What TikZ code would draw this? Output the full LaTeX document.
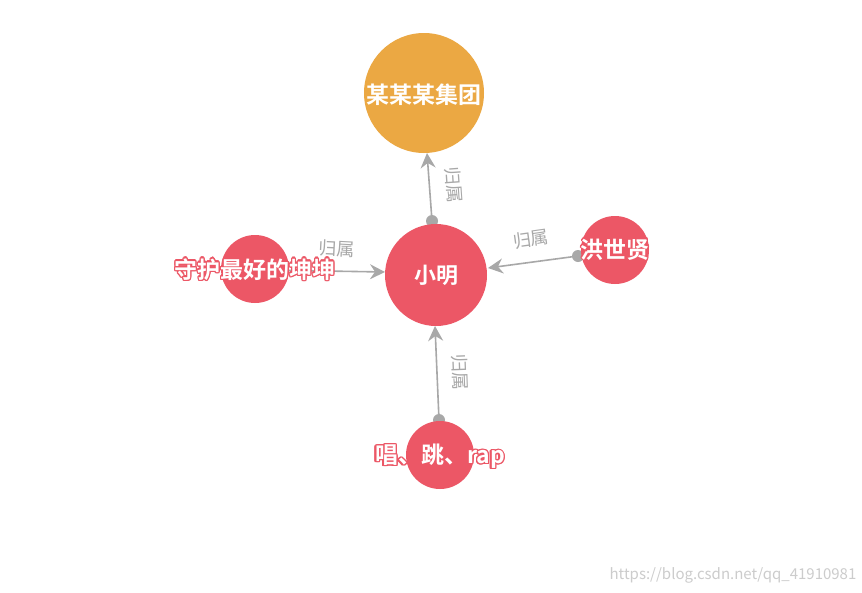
\documentclass[tikz,border=0pt]{standalone}
\usepackage{fontspec}
\setmainfont{Noto Sans CJK SC}
\newfontfamily\cjkb{Noto Sans CJK SC Bold}
\usepackage{contour}
\contourlength{1.3pt}
\usetikzlibrary{arrows.meta}
\definecolor{nred}{HTML}{EC5766}
\definecolor{norange}{HTML}{EBA843}
\definecolor{egray}{HTML}{A8A8A8}
\begin{document}
\begin{tikzpicture}[x=1pt,y=-1pt,
  ent/.style={circle,fill=nred,inner sep=0pt,text=white,font=\cjkb\fontsize{22}{24}\selectfont},
  edge/.style={draw=egray,line width=1.6pt,-{Stealth[length=15pt,width=15pt,inset=5pt]}},
  dotm/.style={fill=egray},
  tx/.style={font=\cjkb\fontsize{23}{25}\selectfont,inner sep=0pt},
  lab/.style={text=egray,font=\fontsize{18}{20}\selectfont,inner sep=0pt}]
\useasboundingbox[fill=white] (0,0) rectangle (862,592);
\coordinate (d1) at (432,221);
\coordinate (d2) at (265,270);
\coordinate (d3) at (578,256);
\coordinate (d4) at (439,420);
\coordinate (t1) at (427,153);
\coordinate (t2) at (385,272);
\coordinate (t3) at (488,268);
\coordinate (t4) at (435,326);
\fill[dotm] (d1) circle (6);
\fill[dotm] (d3) circle (6);
\fill[dotm] (d4) circle (6);
\draw[edge] (d1) -- (t1);
\draw[edge] (d2) -- (t2);
\draw[edge] (d3) -- (t3);
\draw[edge] (d4) -- (t4);
\node[lab,rotate=-86] (l1) at (454,185) {归属};
\node[lab,rotate=-3] (l2) at (337,249) {归属};
\node[lab,rotate=8] (l3) at (531,239) {归属};
\node[lab,rotate=-88] (l4) at (460,372) {归属};
\node[ent,fill=norange,minimum size=120] (g) at (424,93) {};
\node[ent,minimum size=102] (x) at (436,275) {小明};
\node[ent,minimum size=68] (a) at (255,269) {};
\node[ent,minimum size=68] (b) at (615,250) {};
\node[ent,minimum size=68] (c) at (440,455) {};
\node[tx] (gt) at (424,95) {\contour{norange}{\textcolor{white}{某某某集团}}};
\node[tx] (at) at (255,270) {\contour{nred}{\textcolor{white}{守护最好的坤坤}}};
\node[tx] (bt) at (615,250) {\contour{nred}{\textcolor{white}{洪世贤}}};
\node[tx] (ct) at (440,457) {\contour{nred}{\textcolor{white}{唱、跳、rap}}};
\node[text=black!20,font=\fontsize{15}{17}\selectfont] (wm) at (733,575) {https://blog.csdn.net/qq\_41910981};
\end{tikzpicture}
\end{document}
